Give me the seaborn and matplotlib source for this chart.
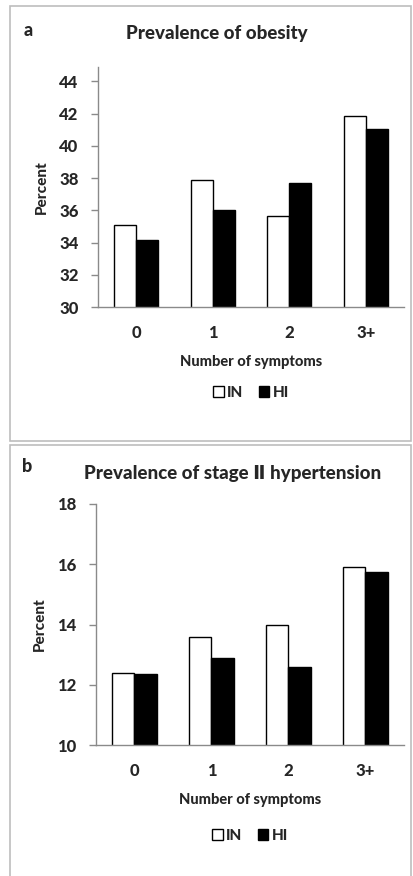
import pandas as pd
import matplotlib
matplotlib.use("Agg")
import matplotlib.pyplot as plt
from matplotlib.patches import Rectangle
import seaborn as sns

# data
symptoms = ["0", "1", "2", "3+"]
groups = ["IN", "HI"]
obesity_in = [35.1, 37.9, 35.65, 41.85]
obesity_hi = [34.15, 36.0, 37.7, 41.05]
htn_in = [12.4, 13.6, 14.0, 15.9]
htn_hi = [12.35, 12.9, 12.6, 15.75]


def long_table(vals_in, vals_hi):
    rows = []
    for s, a, b in zip(symptoms, vals_in, vals_hi):
        rows.append({"symptoms": s, "group": "IN", "percent": a})
        rows.append({"symptoms": s, "group": "HI", "percent": b})
    return pd.DataFrame(rows)


sns.set_theme(style="white")
plt.rcParams["font.family"] = ["Lato", "DejaVu Sans"]
WT = "black"

W, H = 414, 876
fig = plt.figure(figsize=(W / 100, H / 100), dpi=100)


def px_axes(left, right, top, bottom):
    return fig.add_axes([left / W, 1 - bottom / H, (right - left) / W, (bottom - top) / H])


def draw_panel(ax, df, ylim, yticks, legend_y):
    sns.barplot(data=df, x="symptoms", y="percent", hue="group", hue_order=groups,
                palette={"IN": "white", "HI": "black"}, edgecolor="black",
                linewidth=1, width=0.575, ax=ax)
    ax.set_ylim(*ylim)
    ax.set_yticks(yticks)
    ax.set_xlim(-0.5, 3.5)
    for side in ["top", "right"]:
        ax.spines[side].set_visible(False)
    for side in ["left", "bottom"]:
        ax.spines[side].set_color("#8a8a8a")
        ax.spines[side].set_linewidth(1)
    ax.tick_params(axis="y", direction="out", length=5, width=1, color="#8a8a8a",
                   left=True, pad=9, labelsize=12)
    ax.tick_params(axis="x", length=0, pad=13, labelsize=12)
    for lab in ax.get_xticklabels() + ax.get_yticklabels():
        lab.set_fontweight(WT)
    ax.set_xlabel("Number of symptoms", fontsize=10.5, fontweight=WT, va="center")
    ax.xaxis.set_label_coords(0.5, -0.228)
    ax.set_ylabel("Percent", fontsize=11, fontweight=WT, va="center")
    ax.yaxis.set_label_coords(-0.182, 0.5)
    handles, labels = ax.get_legend_handles_labels()
    ax.legend(handles, labels, loc="center", bbox_to_anchor=(0.5, legend_y), ncol=2,
              frameon=False, handlelength=0.7, handleheight=0.7, handletextpad=0.2,
              columnspacing=1.0, prop={"weight": WT, "size": 11})


# panel frames
fig.patches.append(Rectangle((10 / W, 1 - 441 / H), 401 / W, 435 / H, transform=fig.transFigure,
                             fill=False, edgecolor="#bdbdbd", linewidth=1.2))
fig.patches.append(Rectangle((10 / W, 1 - 880 / H), 401 / W, 435 / H, transform=fig.transFigure,
                             fill=False, edgecolor="#bdbdbd", linewidth=1.2))

ax_a = px_axes(98, 404, 67, 307)
draw_panel(ax_a, long_table(obesity_in, obesity_hi), (30, 44.9), range(30, 45, 2), -0.358)
fig.text(217 / W, 1 - 33 / H, "Prevalence of obesity", ha="center", va="center",
         fontsize=13.5, fontweight=WT)
fig.text(28 / W, 1 - 30 / H, "a", ha="center", va="center", fontsize=13, fontweight=WT)

ax_b = px_axes(96, 404, 504, 745)
draw_panel(ax_b, long_table(htn_in, htn_hi), (10, 18), range(10, 19, 2), -0.378)
fig.text(233 / W, 1 - 473 / H, "Prevalence of stage Ⅱ hypertension", ha="center", va="center",
         fontsize=13.5, fontweight=WT)
fig.text(27 / W, 1 - 467 / H, "b", ha="center", va="center", fontsize=13, fontweight=WT)

fig.savefig("out.png", dpi=100)
